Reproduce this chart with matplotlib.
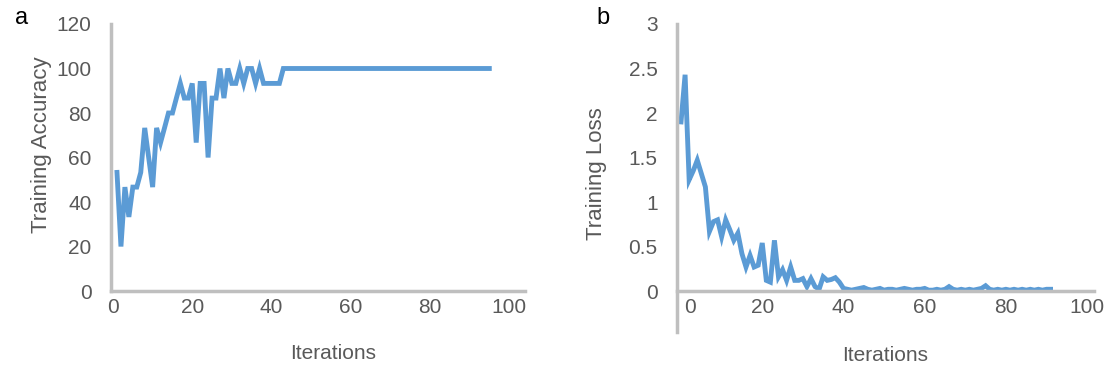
import numpy as np
import matplotlib.pyplot as plt
from matplotlib.transforms import ScaledTranslation

plt.rcParams['font.family'] = ['Liberation Sans', 'DejaVu Sans']

LINE_COLOR = '#5B9BD5'
AXIS_COLOR = '#BFBFBF'
TEXT_COLOR = '#595959'

# panel a: training accuracy per iteration
acc_iter = np.arange(1, 96)
acc_values = [53.3, 20, 46.7, 33.3, 46.7, 46.7, 53.3, 73.3, 60, 46.7,
              73.3, 66.7, 73.3, 80, 80, 86.7, 93.3, 86.7, 86.7, 93.3,
              66.7, 93.3, 93.3, 60, 86.7, 86.7, 100, 86.7, 100, 93.3,
              93.3, 100, 93.3, 100, 100, 93.3, 100, 93.3, 93.3, 93.3,
              93.3, 93.3] + [100] * 53

# panel b: training loss per iteration
loss_iter = np.arange(0, 92)
loss_values = [1.90, 2.43, 1.25, 1.35, 1.47, 1.32, 1.17, 0.67, 0.78, 0.80,
               0.61, 0.80, 0.69, 0.57, 0.65, 0.42, 0.27, 0.40, 0.27, 0.29,
               0.54, 0.12, 0.10, 0.57, 0.16, 0.24, 0.12, 0.27, 0.12, 0.12,
               0.14, 0.05, 0.14, 0.05, 0.02, 0.16, 0.12, 0.13, 0.15, 0.10,
               0.03, 0.02, 0.01, 0.02, 0.03, 0.04, 0.02, 0.01, 0.02, 0.03,
               0.01, 0.02, 0.02, 0.01, 0.02, 0.03, 0.02, 0.01, 0.02, 0.02,
               0.03, 0.01, 0.01, 0.02, 0.01, 0.02, 0.05, 0.02, 0.01, 0.02,
               0.01, 0.02, 0.01, 0.02, 0.03, 0.06, 0.02, 0.01, 0.02, 0.01,
               0.02, 0.01, 0.02, 0.01, 0.02, 0.01, 0.02, 0.01, 0.02, 0.01,
               0.02, 0.02]

x_ticks = [0, 20, 40, 60, 80, 100]
acc_ticks = [0, 20, 40, 60, 80, 100, 120]
loss_ticks = [0, 0.5, 1, 1.5, 2, 2.5, 3]
loss_tick_labels = ['0', '0.5', '1', '1.5', '2', '2.5', '3']

fig = plt.figure(figsize=(11.16, 3.72), dpi=100)
ax1 = fig.add_axes([0.0995, 0.2177, 0.3709, 0.7178])
ax2 = fig.add_axes([0.6066, 0.1075, 0.3737, 0.8280])


def style_axes(ax):
    for side in ['top', 'right']:
        ax.spines[side].set_visible(False)
    for side in ['left', 'bottom']:
        ax.spines[side].set_color(AXIS_COLOR)
        ax.spines[side].set_linewidth(2.5)
    ax.tick_params(length=0, labelsize=15, labelcolor=TEXT_COLOR)
    ax.tick_params(axis='y', pad=14)
    ax.tick_params(axis='x', pad=5)


# accuracy
ax1.plot(acc_iter, acc_values, color=LINE_COLOR, linewidth=3.5, solid_joinstyle='miter')
ax1.set_xlim(-0.5, 104)
ax1.set_ylim(0, 120)
ax1.set_xticks(x_ticks)
ax1.set_yticks(acc_ticks)
style_axes(ax1)
ax1.set_xlabel('Iterations', fontsize=15, color=TEXT_COLOR)
ax1.xaxis.set_label_coords(0.536, -0.20)
ax1.set_ylabel('Training Accuracy', fontsize=16, color=TEXT_COLOR)
ax1.yaxis.set_label_coords(-0.142, 0.547)

# loss
ax2.plot(loss_iter, loss_values, color=LINE_COLOR, linewidth=3.5, solid_joinstyle='miter')
ax2.set_xlim(-1, 101.7)
ax2.set_ylim(-0.46, 3)
ax2.set_xticks(x_ticks)
ax2.set_yticks(loss_ticks)
ax2.set_yticklabels(loss_tick_labels)
style_axes(ax2)
ax2.spines['bottom'].set_position(('data', 0))
ax2.set_xlabel('Iterations', fontsize=15, color=TEXT_COLOR)
ax2.xaxis.set_label_coords(0.499, -0.045)
ax2.set_ylabel('Training Loss', fontsize=16, color=TEXT_COLOR)
ax2.yaxis.set_label_coords(-0.168, 0.513)
# the "0" label sits a little right of the axis in the original
first = ax2.get_xticklabels()[0]
first.set_transform(first.get_transform() + ScaledTranslation(9 / 100, 0, fig.dpi_scale_trans))

fig.text(15 / 1116, 1 - 18 / 372, 'a', fontsize=17, color='black', ha='left', va='center')
fig.text(596 / 1116, 1 - 18 / 372, 'b', fontsize=17, color='black', ha='left', va='center')

fig.savefig('out.png', dpi=100)
